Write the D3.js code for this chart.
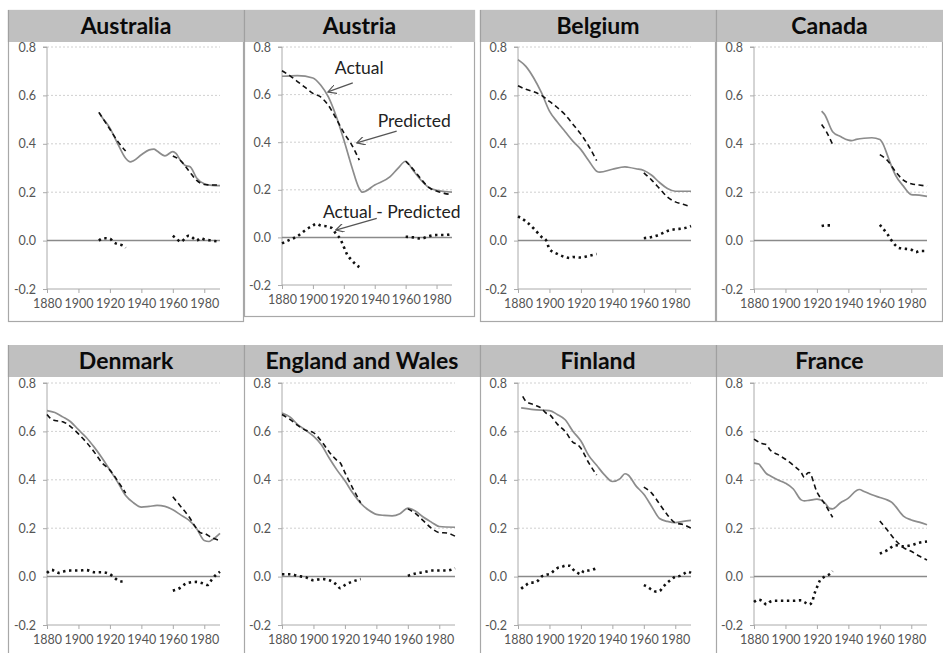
<!DOCTYPE html>
<html><head><meta charset="utf-8">
<script src="https://cdn.jsdelivr.net/npm/d3@7"></script>
<style>body{margin:0;background:#fff;} svg{display:block;}</style>
</head><body>
<svg id="chart" width="943" height="653"></svg>
<script>
// ---------------- DATA ----------------
const countries = ["Australia","Austria","Belgium","Canada","Denmark","England and Wales","Finland","France"];
const xTicks = [1880,1900,1920,1940,1960,1980];
const yTicks = [-0.2,0,0.2,0.4,0.6,0.8];
const yTickLabels = ["-0.2","0.0","0.2","0.4","0.6","0.8"];

const australiaActual = [[1913,0.53],[1915,0.51],[1920,0.465],[1925,0.40],[1930,0.34],[1933,0.325],[1935,0.33],[1940,0.355],[1945,0.375],[1948,0.378],[1950,0.37],[1955,0.35],[1960,0.368],[1962,0.36],[1965,0.33],[1968,0.31],[1971,0.305],[1975,0.26],[1980,0.235],[1985,0.228],[1990,0.227]];
const australiaPredicted = [[1913,0.53],[1916,0.50],[1920,0.46],[1925,0.41],[1930,0.37],[1945,null],[1960,0.35],[1965,0.33],[1970,0.29],[1975,0.25],[1980,0.232],[1985,0.23],[1990,0.23]];
const australiaDiff = [[1913,0.0],[1916,0.01],[1920,0.008],[1922,-0.005],[1925,-0.015],[1928,-0.02],[1930,-0.03],[1945,null],[1960,0.02],[1962,0.01],[1965,-0.005],[1968,0.01],[1970,0.02],[1972,0.015],[1975,0.0],[1978,0.01],[1980,0.005],[1985,0.0],[1990,-0.005]];

const austriaActual = [[1880,0.677],[1890,0.68],[1900,0.67],[1905,0.64],[1910,0.59],[1915,0.51],[1920,0.41],[1925,0.30],[1930,0.205],[1932,0.19],[1940,0.22],[1950,0.255],[1955,0.29],[1960,0.32],[1965,0.28],[1970,0.24],[1975,0.21],[1980,0.198],[1990,0.19]];
const austriaPredicted = [[1880,0.70],[1885,0.68],[1890,0.655],[1895,0.63],[1900,0.605],[1905,0.59],[1910,0.555],[1915,0.50],[1920,0.44],[1925,0.39],[1930,0.325],[1945,null],[1960,0.32],[1965,0.285],[1970,0.245],[1975,0.21],[1980,0.195],[1985,0.185],[1990,0.18]];
const austriaDiff = [[1880,-0.025],[1885,-0.01],[1890,0.005],[1895,0.03],[1900,0.05],[1902,0.057],[1905,0.05],[1910,0.045],[1912,0.04],[1915,0.015],[1918,-0.01],[1920,-0.04],[1922,-0.07],[1925,-0.095],[1928,-0.115],[1930,-0.125],[1945,null],[1960,0.003],[1965,0.0],[1970,-0.005],[1975,0.005],[1980,0.01],[1985,0.01],[1990,0.015]];

const belgiumActual = [[1880,0.748],[1885,0.72],[1890,0.672],[1895,0.61],[1900,0.535],[1905,0.49],[1910,0.45],[1915,0.41],[1920,0.376],[1925,0.33],[1930,0.287],[1932,0.283],[1940,0.295],[1948,0.305],[1950,0.303],[1955,0.297],[1960,0.29],[1965,0.27],[1970,0.24],[1975,0.215],[1980,0.204],[1990,0.204]];
const belgiumPredicted = [[1880,0.64],[1885,0.625],[1890,0.615],[1895,0.60],[1900,0.575],[1905,0.55],[1910,0.52],[1915,0.48],[1920,0.44],[1925,0.39],[1930,0.33],[1945,null],[1960,0.28],[1965,0.25],[1970,0.215],[1975,0.18],[1980,0.16],[1985,0.15],[1990,0.14]];
const belgiumDiff = [[1880,0.10],[1885,0.08],[1890,0.05],[1895,0.015],[1898,0.0],[1900,-0.035],[1905,-0.055],[1910,-0.068],[1913,-0.072],[1915,-0.068],[1920,-0.07],[1925,-0.063],[1930,-0.055],[1945,null],[1960,0.01],[1965,0.015],[1970,0.025],[1975,0.04],[1980,0.047],[1985,0.05],[1990,0.06]];

const canadaActual = [[1923,0.535],[1925,0.52],[1930,0.45],[1935,0.43],[1940,0.415],[1942,0.413],[1945,0.418],[1950,0.423],[1955,0.425],[1960,0.418],[1962,0.40],[1965,0.35],[1967,0.315],[1970,0.27],[1975,0.225],[1980,0.19],[1985,0.188],[1990,0.183]];
const canadaPredicted = [[1923,0.48],[1926,0.45],[1930,0.397],[1945,null],[1960,0.355],[1965,0.33],[1970,0.285],[1975,0.25],[1980,0.235],[1985,0.23],[1990,0.225]];
const canadaDiff = [[1923,0.06],[1926,0.063],[1930,0.063],[1945,null],[1960,0.065],[1962,0.05],[1965,0.025],[1967,0.005],[1970,-0.02],[1972,-0.03],[1975,-0.033],[1980,-0.038],[1983,-0.048],[1985,-0.043],[1990,-0.043]];

const denmarkActual = [[1880,0.686],[1885,0.678],[1890,0.66],[1895,0.64],[1900,0.607],[1905,0.575],[1910,0.535],[1915,0.49],[1920,0.44],[1925,0.39],[1930,0.335],[1935,0.305],[1940,0.287],[1945,0.29],[1950,0.294],[1955,0.29],[1960,0.276],[1965,0.255],[1970,0.234],[1975,0.20],[1980,0.149],[1983,0.145],[1985,0.152],[1990,0.179]];
const denmarkPredicted = [[1880,0.67],[1882,0.655],[1885,0.645],[1890,0.64],[1895,0.62],[1900,0.59],[1905,0.555],[1910,0.515],[1915,0.47],[1920,0.44],[1925,0.395],[1930,0.345],[1945,null],[1960,0.33],[1965,0.29],[1970,0.25],[1975,0.20],[1978,0.18],[1980,0.178],[1985,0.16],[1990,0.149]];
const denmarkDiff = [[1880,0.015],[1883,0.028],[1885,0.022],[1888,0.015],[1890,0.02],[1895,0.025],[1900,0.025],[1905,0.027],[1910,0.018],[1915,0.018],[1920,0.01],[1922,0.0],[1925,-0.015],[1928,-0.02],[1930,-0.018],[1945,null],[1960,-0.058],[1963,-0.052],[1965,-0.045],[1968,-0.03],[1970,-0.025],[1975,-0.022],[1980,-0.03],[1982,-0.035],[1985,-0.01],[1988,0.01],[1990,0.02]];

const englandActual = [[1880,0.676],[1885,0.66],[1890,0.628],[1895,0.605],[1900,0.58],[1905,0.545],[1910,0.49],[1915,0.44],[1920,0.396],[1925,0.345],[1930,0.303],[1935,0.275],[1940,0.257],[1945,0.253],[1950,0.251],[1955,0.26],[1960,0.283],[1965,0.27],[1970,0.245],[1975,0.225],[1980,0.207],[1990,0.204]];
const englandPredicted = [[1880,0.67],[1885,0.65],[1890,0.625],[1895,0.605],[1900,0.595],[1905,0.56],[1910,0.515],[1915,0.48],[1917,0.47],[1920,0.43],[1925,0.365],[1930,0.305],[1945,null],[1960,0.28],[1965,0.26],[1970,0.23],[1975,0.20],[1980,0.182],[1985,0.18],[1990,0.167]];
const englandDiff = [[1880,0.01],[1885,0.01],[1890,0.003],[1895,-0.003],[1900,-0.015],[1905,-0.01],[1910,-0.015],[1915,-0.035],[1917,-0.048],[1920,-0.035],[1925,-0.02],[1930,-0.01],[1945,null],[1960,0.003],[1965,0.013],[1970,0.018],[1975,0.025],[1980,0.025],[1985,0.025],[1990,0.035]];

const finlandActual = [[1882,0.697],[1890,0.69],[1900,0.686],[1905,0.67],[1910,0.648],[1915,0.60],[1920,0.56],[1925,0.50],[1930,0.46],[1935,0.42],[1940,0.393],[1945,0.405],[1948,0.425],[1950,0.42],[1955,0.375],[1960,0.34],[1965,0.29],[1970,0.24],[1975,0.228],[1980,0.223],[1985,0.228],[1990,0.232]];
const finlandPredicted = [[1883,0.745],[1885,0.725],[1890,0.71],[1895,0.695],[1898,0.675],[1900,0.67],[1905,0.63],[1910,0.60],[1915,0.555],[1918,0.545],[1920,0.53],[1925,0.47],[1930,0.42],[1945,null],[1960,0.37],[1965,0.345],[1970,0.30],[1975,0.255],[1980,0.222],[1985,0.215],[1990,0.20]];
const finlandDiff = [[1882,-0.05],[1885,-0.035],[1888,-0.025],[1890,-0.025],[1893,-0.015],[1895,0.0],[1898,0.008],[1900,0.01],[1903,0.025],[1905,0.035],[1908,0.04],[1910,0.045],[1913,0.045],[1915,0.03],[1918,0.015],[1920,0.01],[1922,0.025],[1925,0.025],[1928,0.03],[1930,0.035],[1945,null],[1960,-0.035],[1963,-0.045],[1965,-0.055],[1968,-0.062],[1970,-0.06],[1972,-0.045],[1975,-0.025],[1978,-0.01],[1980,0.0],[1983,0.003],[1985,0.01],[1988,0.02],[1990,0.015]];

const franceActual = [[1880,0.469],[1883,0.465],[1885,0.45],[1888,0.425],[1890,0.418],[1895,0.40],[1900,0.386],[1905,0.362],[1910,0.317],[1912,0.313],[1915,0.315],[1920,0.32],[1925,0.305],[1928,0.282],[1930,0.28],[1935,0.305],[1940,0.324],[1945,0.355],[1947,0.36],[1950,0.352],[1955,0.338],[1960,0.327],[1965,0.316],[1968,0.305],[1970,0.29],[1975,0.25],[1980,0.234],[1985,0.225],[1990,0.214]];
const francePredicted = [[1880,0.568],[1885,0.55],[1888,0.545],[1890,0.525],[1895,0.505],[1900,0.485],[1905,0.46],[1910,0.43],[1912,0.41],[1913,0.42],[1915,0.43],[1920,0.35],[1925,0.30],[1930,0.245],[1945,null],[1960,0.23],[1965,0.19],[1970,0.15],[1975,0.12],[1980,0.105],[1985,0.085],[1990,0.069]];
const franceDiff = [[1880,-0.105],[1883,-0.095],[1885,-0.10],[1888,-0.115],[1890,-0.105],[1893,-0.10],[1895,-0.10],[1900,-0.10],[1905,-0.10],[1910,-0.098],[1912,-0.105],[1915,-0.115],[1917,-0.105],[1918,-0.08],[1920,-0.045],[1922,-0.015],[1925,0.0],[1928,0.01],[1930,0.023],[1945,null],[1960,0.095],[1965,0.11],[1970,0.13],[1975,0.125],[1980,0.13],[1985,0.14],[1990,0.145]];

const actualSeries = [australiaActual,austriaActual,belgiumActual,canadaActual,denmarkActual,englandActual,finlandActual,franceActual];
const predictedSeries = [australiaPredicted,austriaPredicted,belgiumPredicted,canadaPredicted,denmarkPredicted,englandPredicted,finlandPredicted,francePredicted];
const diffSeries = [australiaDiff,austriaDiff,belgiumDiff,canadaDiff,denmarkDiff,englandDiff,finlandDiff,franceDiff];

// annotations (Austria), in data coordinates: label start, arrow from -> to
const annotationLabels = ["Actual","Predicted","Actual - Predicted"];
const annotationText = [[1914.2,0.687],[1941.9,0.464],[1906.5,0.082]];
const annotationFrom = [[1925.8,0.649],[1954.2,0.447],[1941.3,0.080]];
const annotationTo = [[1909.7,0.611],[1928.4,0.397],[1914.8,0.031]];

// ---------------- LAYOUT ----------------
const layout = [
  {bx0:8,  bx1:244, by0:10, by1:322, bar1:42, ax0:47,  ax1:220, ay0:47, ay1:289, box:true},
  {bx0:244,bx1:475, by0:10, by1:317, bar1:42, ax0:282, ax1:452, ay0:47, ay1:285, box:true},
  {bx0:480,bx1:716, by0:10, by1:322, bar1:42, ax0:518, ax1:691, ay0:47, ay1:289, box:true},
  {bx0:716,bx1:943, by0:10, by1:322, bar1:42, ax0:754, ax1:927, ay0:47, ay1:289, box:true},
  {bx0:8,  bx1:244, by0:345,by1:653, bar1:377,ax0:47,  ax1:220, ay0:383,ay1:625, box:false},
  {bx0:244,bx1:480, by0:345,by1:653, bar1:377,ax0:282, ax1:455, ay0:383,ay1:625, box:false},
  {bx0:480,bx1:716, by0:345,by1:653, bar1:377,ax0:518, ax1:691, ay0:383,ay1:625, box:false},
  {bx0:716,bx1:943, by0:345,by1:653, bar1:377,ax0:754, ax1:927, ay0:383,ay1:625, box:false}
];

const svg = d3.select("#chart");
const defs = svg.append("defs");
defs.append("marker").attr("id","arr").attr("viewBox","0 0 10 10").attr("refX",9).attr("refY",5)
  .attr("markerWidth",9).attr("markerHeight",9).attr("markerUnits","userSpaceOnUse").attr("orient","auto")
  .append("path").attr("d","M0,0 L9,5 L0,10").attr("fill","none").attr("stroke","#555").attr("stroke-width",1.3);

const font = "Lato, 'Open Sans', sans-serif";

countries.forEach((name,i)=>{
  const L = layout[i];
  const g = svg.append("g");
  if (L.box) {
    g.append("rect").attr("x",L.bx0+0.5).attr("y",L.by0+0.5).attr("width",L.bx1-L.bx0-1).attr("height",L.by1-L.by0-1)
      .attr("fill","#fff").attr("stroke","#a8a8a8").attr("stroke-width",1.2);
  } else {
    g.append("line").attr("x1",L.bx0+0.5).attr("x2",L.bx0+0.5).attr("y1",L.by0).attr("y2",L.by1)
      .attr("stroke","#a8a8a8").attr("stroke-width",1.2);
  }
  g.append("rect").attr("x",L.bx0).attr("y",L.by0).attr("width",L.bx1-L.bx0).attr("height",L.bar1-L.by0).attr("fill","#c0c0c0");
  g.append("line").attr("x1",L.bx0+0.5).attr("x2",L.bx0+0.5).attr("y1",L.by0).attr("y2",L.bar1).attr("stroke","#a0a0a0").attr("stroke-width",1.2);
  g.append("text").attr("x",(L.bx0+L.bx1)/2).attr("y",L.by0+24).attr("text-anchor","middle")
    .attr("font-family",font).attr("font-weight","bold").attr("font-size",23).attr("fill","#0a0a0a").text(name);

  const x = d3.scaleLinear().domain([1880,1990]).range([L.ax0,L.ax1]);
  const y = d3.scaleLinear().domain([-0.2,0.8]).range([L.ay1,L.ay0]);

  g.selectAll(".grid").data([0.2,0.4,0.6,0.8]).enter().append("line")
    .attr("x1",L.ax0).attr("x2",L.ax1).attr("y1",d=>y(d)).attr("y2",d=>y(d))
    .attr("stroke","#c4c4c4").attr("stroke-width",0.8).attr("stroke-dasharray","2,2");

  const yAxis = d3.axisLeft(y).tickValues(yTicks).tickFormat((d,k)=>yTickLabels[k]).tickSize(4).tickPadding(7);
  const ya = g.append("g").attr("transform",`translate(${L.ax0},0)`).call(yAxis);
  ya.select(".domain").attr("stroke","#aaa").attr("d",`M-4,${y(0.8)}H0V${y(-0.2)}`);
  ya.selectAll(".tick line").attr("stroke","#aaa");
  ya.selectAll("text").attr("font-family",font).attr("font-size",12.5).attr("fill","#555");

  const xAxis = d3.axisBottom(x).tickValues(xTicks).tickFormat(d3.format("d")).tickSize(4).tickPadding(6);
  const xa = g.append("g").attr("transform",`translate(0,${y(-0.2)})`).call(xAxis);
  xa.select(".domain").attr("stroke","#aaa").attr("d",`M${L.ax0},0H${L.ax1}`);
  xa.selectAll(".tick line").attr("stroke","#aaa");
  xa.selectAll("text").attr("font-family",font).attr("font-size",12.5).attr("fill","#555");

  g.append("line").attr("x1",L.ax0).attr("x2",L.ax1).attr("y1",y(0)).attr("y2",y(0))
    .attr("stroke","#8a8a8a").attr("stroke-width",1.5);

  const line = d3.line().defined(d=>d[1]!==null).x(d=>x(d[0])).y(d=>y(d[1])).curve(d3.curveMonotoneX);

  g.append("path").datum(actualSeries[i]).attr("d",line).attr("fill","none")
    .attr("stroke","#8c8c8c").attr("stroke-width",1.7);
  g.append("path").datum(predictedSeries[i]).attr("d",line).attr("fill","none")
    .attr("stroke","#111").attr("stroke-width",1.6).attr("stroke-dasharray","5,3.5");
  g.append("path").datum(diffSeries[i]).attr("d",line).attr("fill","none")
    .attr("stroke","#111").attr("stroke-width",2.6).attr("stroke-dasharray","2.4,3.6");

  if (name === "Austria") {
    annotationLabels.forEach((lab,k)=>{
      g.append("text").attr("x",x(annotationText[k][0])).attr("y",y(annotationText[k][1]))
        .attr("font-family",font).attr("font-size",17.5).attr("fill","#222").text(lab);
      g.append("line").attr("x1",x(annotationFrom[k][0])).attr("y1",y(annotationFrom[k][1]))
        .attr("x2",x(annotationTo[k][0])).attr("y2",y(annotationTo[k][1]))
        .attr("stroke","#555").attr("stroke-width",1.3).attr("marker-end","url(#arr)");
    });
  }
});
</script>
</body></html>
